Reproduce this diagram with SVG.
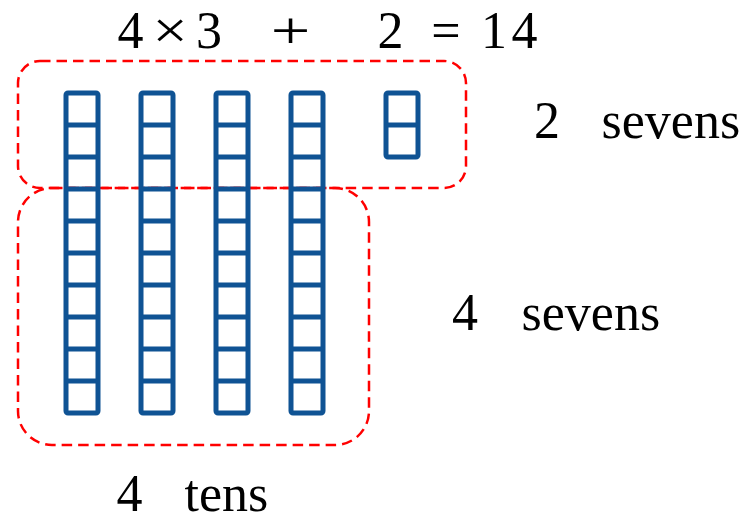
<svg xmlns="http://www.w3.org/2000/svg" width="746" height="515" viewBox="0 0 746 515">
<defs>
<style>
.bar{fill:none;stroke:#0F5394;stroke-width:5;stroke-linejoin:round}
.sep{stroke:#0F5394;stroke-width:5}
.grp{fill:none;stroke:#FF0000;stroke-width:2.5;stroke-dasharray:10.5 6}
.t{font-family:'Liberation Serif','Times New Roman',serif;font-size:52px;fill:#000}
.m{text-anchor:middle}
</style>
<g id="tenrod">
<rect class="bar" x="0" y="0" width="32" height="320" rx="2"/>
<path class="sep" d="M0 32H32M0 64H32M0 96H32M0 128H32M0 160H32M0 192H32M0 224H32M0 256H32M0 288H32"/>
</g>
</defs>
<rect width="746" height="515" fill="#fff"/>
<g id="groups">
<rect id="group-sevens-2" class="grp" x="18" y="61" width="448" height="127" rx="22"/>
<rect id="group-sevens-4" class="grp" x="18" y="188" width="351" height="257" rx="34"/>
</g>
<g id="rod1"><use href="#tenrod" x="66" y="93"/></g>
<g id="rod2"><use href="#tenrod" x="141" y="93"/></g>
<g id="rod3"><use href="#tenrod" x="216" y="93"/></g>
<g id="rod4"><use href="#tenrod" x="291" y="93"/></g>
<g id="rod5">
<rect class="bar" x="386" y="93" width="32" height="64" rx="2"/>
<path class="sep" d="M386 125H418"/>
</g>
<g id="equation">
<text class="t m" x="130.5" y="48">4</text>
<text class="t m" x="170" y="48" transform="translate(170 0) scale(1.2 1) translate(-170 0)">×</text>
<text class="t m" x="209" y="48">3</text>
<text class="t m" x="290.5" y="48" transform="translate(290.5 0) scale(1.35 1) translate(-290.5 0)">+</text>
<text class="t m" x="390.5" y="48">2</text>
<text class="t m" x="446" y="48">=</text>
<text class="t m" x="494" y="48">1</text>
<text class="t m" x="524.5" y="48">4</text>
</g>
<g id="label-2-sevens">
<text class="t" x="534" y="138">2</text>
<text class="t" x="601.5" y="138">sevens</text>
</g>
<g id="label-4-sevens">
<text class="t" x="452" y="330">4</text>
<text class="t" x="521.5" y="330">sevens</text>
</g>
<g id="label-4-tens">
<text class="t" x="116.5" y="511">4</text>
<text class="t" x="184.5" y="511">tens</text>
</g>
</svg>
